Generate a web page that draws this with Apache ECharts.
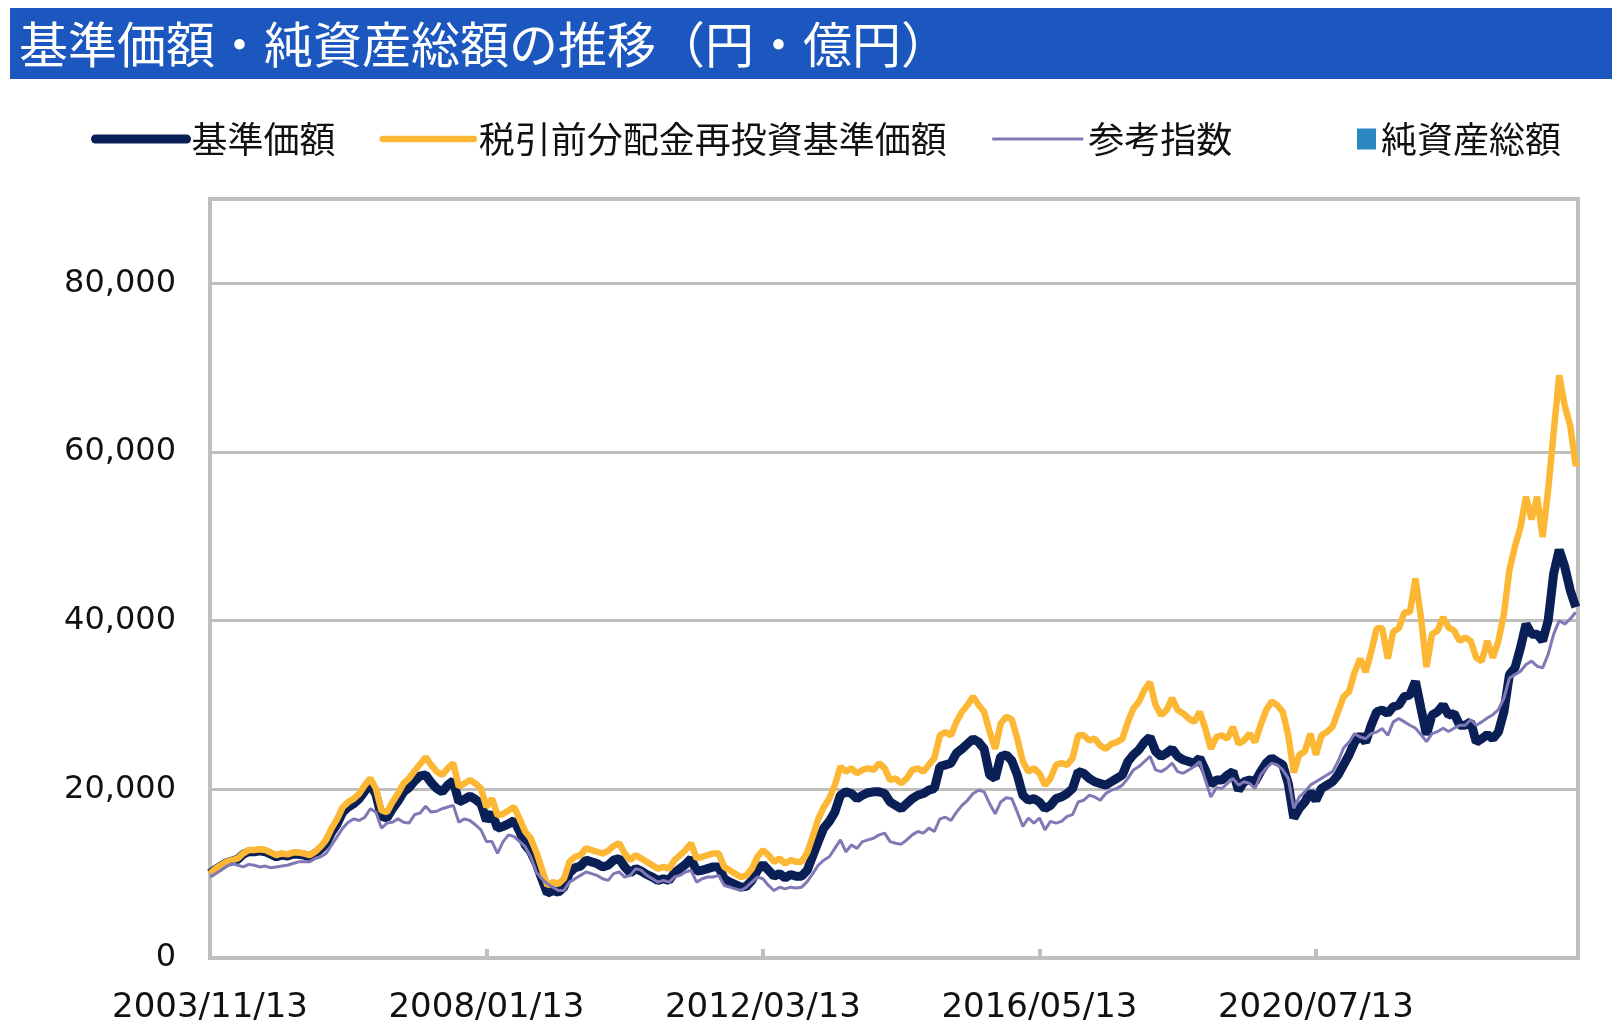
<!DOCTYPE html>
<html>
<head>
<meta charset="utf-8">
<title>基準価額・純資産総額の推移</title>
<script src="https://cdn.jsdelivr.net/npm/echarts@6/dist/echarts.min.js"></script>
<style>
  html, body { margin: 0; padding: 0; background: #fff; }
  #chart { width: 1612px; height: 1028px; }
</style>
</head>
<body>
<div id="chart"></div>
<script>
// x ticks every 50 months from 2003/11/13
var xTickLabels = ['2003/11/13', '2008/01/13', '2012/03/13', '2016/05/13', '2020/07/13']

// monthly readings, month 0 = 2003/11
var navValues = [
  10000, 10500, 10900, 11300, 11500, 11700, 12300, 12600, 12600, 12700,
  12600, 12300, 12000, 12200, 12100, 12300, 12300, 12200, 12000, 12400,
  12900, 13600, 14900, 15900, 17300, 17900, 18300, 18900, 19800, 20600,
  19400, 16800, 16600, 17700, 18600, 19700, 20200, 21000, 21600, 21700,
  20800, 20100, 19700, 20500, 21000, 18500, 18800, 19200, 18800, 18300,
  16300, 17200, 15400, 15600, 15900, 16300, 15000, 13400, 12600, 11200,
  9400, 7700, 8000, 7800, 8400, 10100, 10700, 10900, 11600, 11400,
  11200, 10800, 11000, 11600, 11800, 10800, 10100, 10600, 10300, 9900,
  9600, 9200, 9400, 9200, 10100, 10600, 11100, 11800, 10300, 10400,
  10600, 10800, 10800, 9400, 9000, 8700, 8400, 8500, 9200, 10400,
  11100, 10400, 9700, 10000, 9500, 9900, 9700, 9700, 10400, 12100,
  13800, 15400, 16200, 17300, 19300, 19700, 19500, 18900, 19300, 19600,
  19700, 19700, 19500, 18500, 18100, 17700, 18300, 18900, 19300, 19500,
  19900, 20100, 22700, 22900, 23100, 24300, 24800, 25400, 26000, 25600,
  24800, 21700, 21300, 23900, 24100, 23400, 21700, 19300, 18700, 18900,
  18500, 17700, 18100, 18900, 19100, 19500, 20100, 22100, 21900, 21300,
  20900, 20700, 20500, 20900, 21300, 21700, 23300, 24100, 24700, 25600,
  26200, 24500, 23900, 24300, 24800, 23900, 23500, 23300, 23100, 23700,
  22300, 20600, 21100, 21100, 21700, 22100, 19900, 20900, 21100, 20900,
  22100, 23100, 23700, 23300, 22900, 20700, 16600, 17750, 18500, 19700,
  18700, 20100, 20500, 20900, 21700, 22900, 24100, 25600, 26400, 25600,
  27600, 29200, 29400, 29000, 29800, 30000, 31000, 31200, 32800, 29600,
  26500, 28800, 29200, 30000, 28800, 29000, 27600, 27600, 28000, 25600,
  26000, 26500, 26000, 26800, 29200, 33600, 34400, 36800, 39600, 38400,
  38400, 37600, 40000, 45600, 48400, 46400, 43600, 41600
]

var reinvestValues = [
  10000, 10600, 11000, 11400, 11600, 11800, 12400, 12800, 12800, 12900,
  12800, 12500, 12200, 12400, 12300, 12500, 12500, 12400, 12200, 12600,
  13200, 14000, 15400, 16500, 17900, 18500, 18900, 19500, 20500, 21300,
  20100, 17500, 17300, 18500, 19500, 20700, 21300, 22200, 23000, 23800,
  22900, 22100, 21700, 22500, 23100, 20300, 20700, 21100, 20700, 20100,
  17900, 18900, 16900, 17100, 17500, 17900, 16500, 15000, 14200, 12600,
  10600, 8600, 9000, 8800, 9400, 11400, 12000, 12200, 13000, 12800,
  12600, 12400, 12700, 13300, 13600, 12400, 11600, 12200, 11800, 11400,
  11000, 10600, 10800, 10600, 11600, 12200, 12800, 13600, 11800, 12000,
  12200, 12400, 12400, 10800, 10400, 10000, 9600, 9800, 10600, 12000,
  12800, 12200, 11400, 11800, 11200, 11600, 11400, 11400, 12500, 14400,
  16500, 17900, 18900, 20500, 22700, 22100, 22500, 21900, 22300, 22500,
  22300, 23100, 22500, 21100, 21300, 20700, 21300, 22300, 22500, 22100,
  22900, 23700, 26400, 26800, 26400, 28000, 29200, 30000, 31000, 30000,
  29200, 26800, 24800, 27800, 28600, 28300, 26000, 23300, 22100, 22500,
  21900, 20500, 21300, 22900, 23100, 22900, 23700, 26400, 26400, 25800,
  26000, 25200, 24800, 25400, 25600, 26000, 28000, 29600, 30400, 31800,
  32700, 30000, 28800, 29400, 30800, 29400, 29000, 28400, 28000, 29200,
  27200, 24800, 26200, 26400, 26000, 27400, 25400, 25800, 26600, 25600,
  27600, 29400, 30400, 30000, 29200, 26400, 22000, 24100, 24500, 26600,
  24100, 26400, 26800, 27400, 29200, 31000, 31600, 33900, 35500, 33900,
  36300, 39100, 39100, 35500, 38700, 39100, 41000, 41000, 45000, 40400,
  34500, 38400, 38800, 40400, 39200, 38800, 37600, 38000, 37600, 35600,
  35200, 37600, 35600, 37600, 40800, 46000, 48800, 51100, 54700, 52000,
  54700, 49900, 55500, 62300, 69100, 65500, 63100, 58300
]

var indexValues = [
  9600, 10000, 10400, 10900, 11200, 11000, 10800, 11100, 11000, 10800,
  10900, 10700, 10800, 10900, 11000, 11200, 11400, 11400, 11400, 11800,
  12000, 12400, 13400, 14400, 15400, 16100, 16500, 16300, 16700, 17700,
  17300, 15400, 16000, 16100, 16500, 16100, 16000, 17000, 17200, 18000,
  17300, 17400, 17700, 17900, 18100, 16100, 16500, 16300, 15800, 15200,
  13800, 13800, 12400, 13800, 14600, 14400, 13800, 13200, 12000, 10200,
  9400, 8800, 8400, 8000, 8000, 9000, 9400, 9800, 10200, 10000,
  9800, 9400, 9200, 10000, 10200, 9600, 9800, 10600, 10400, 9800,
  9400, 9000, 9200, 9000, 9600, 9800, 10200, 10400, 9000, 9400,
  9600, 9600, 9800, 8600, 8400, 8200, 8000, 8400, 9000, 9600,
  9400, 8600, 8000, 8400, 8200, 8400, 8300, 8400, 9050, 10000,
  11000, 11600, 12000, 13000, 14000, 12600, 13400, 13000, 13800, 14000,
  14200, 14600, 14800, 13800, 13600, 13500, 14000, 14600, 15000, 14800,
  15400, 15000, 16500, 16700, 16300, 17300, 18100, 18700, 19500, 19900,
  19700, 18300, 17100, 18500, 19000, 18900, 17300, 15600, 16600, 16000,
  16600, 15200, 16200, 16000, 16200, 16800, 17000, 18500, 18700, 19300,
  19100, 18700, 19500, 19900, 20100, 20500, 21300, 22300, 22700, 23300,
  23900, 22300, 22100, 22500, 23100, 22100, 21900, 22300, 22700, 23300,
  21100, 19100, 20200, 20100, 20700, 21300, 20500, 20900, 20700, 20100,
  21700, 22500, 23100, 22900, 22300, 21300, 17750, 19100, 19700, 20500,
  20900, 21300, 21700, 22100, 23300, 24900, 25600, 26600, 26200, 26000,
  26600, 26800, 27200, 26400, 28000, 28400, 28000, 27600, 27250, 26500,
  25650, 26600, 26850, 27250, 26850, 27250, 27600, 27600, 28250, 27600,
  28000, 28450, 28850, 29450, 30800, 33200, 33600, 34000, 34800, 35200,
  34600, 34400, 36000, 38400, 40000, 39600, 40200, 41000
]

var navColor = '#0A1F55'
var reinvestColor = '#FCB834'
var indexColor = '#8179B5'
var assetsColor = '#2A87C0'
var frameColor = '#BFBFBF'

function toPoints (values) {
  return values.map(function (v, i) { return [i, v] })
}

var chart = echarts.init(document.getElementById('chart'))

var legendText = { fontSize: 36, color: '#111', fontFamily: 'Noto Sans CJK JP' }
// the circle that line series put in their legend icon is hidden
var noDot = { opacity: 0 }

var option = {
  animation: false,
  backgroundColor: '#fff',
  graphic: [
    {
      type: 'rect',
      z: 0,
      shape: { x: 10, y: 8, width: 1602, height: 71 },
      style: { fill: '#1B57BE' }
    },
    {
      type: 'text',
      z: 1,
      x: 19,
      y: 44,
      style: {
        text: '基準価額・純資産総額の推移（円・億円）',
        fill: '#fff',
        font: '49px "Noto Sans CJK JP"',
        verticalAlign: 'middle'
      }
    }
  ],
  legend: [
    {
      left: 91,
      top: 121,
      padding: 0,
      itemWidth: 91,
      itemHeight: 36,
      itemGap: 44,
      textStyle: legendText,
      data: [
        { name: '基準価額', itemStyle: noDot, lineStyle: { width: 9, cap: 'round' } },
        { name: '税引前分配金再投資基準価額', itemStyle: noDot, lineStyle: { width: 6.5, cap: 'round' } },
        { name: '参考指数', itemStyle: noDot, lineStyle: { width: 3 } }
      ]
    },
    {
      left: 1357,
      top: 121,
      padding: 0,
      itemWidth: 19,
      itemHeight: 21,
      textStyle: legendText,
      data: [{ name: '純資産総額', icon: 'rect' }]
    }
  ],
  grid: {
    left: 210,
    right: 34,
    top: 199,
    bottom: 70,
    show: true,
    borderColor: frameColor,
    borderWidth: 4
  },
  xAxis: {
    type: 'value',
    min: 0,
    max: 247.4,
    interval: 50,
    axisLine: { lineStyle: { color: frameColor, width: 4 } },
    axisTick: { inside: true, length: 9, lineStyle: { color: frameColor, width: 4 } },
    splitLine: { show: false },
    axisLabel: {
      margin: 33,
      fontSize: 34,
      color: '#111',
      fontFamily: 'DejaVu Sans',
      showMaxLabel: false,
      formatter: function (v) { return xTickLabels[v / 50] || '' }
    }
  },
  yAxis: {
    type: 'value',
    min: 0,
    max: 90000,
    interval: 20000,
    axisLine: { show: true, lineStyle: { color: frameColor, width: 4 } },
    axisTick: { show: false },
    splitLine: { lineStyle: { color: frameColor, width: 3 } },
    axisLabel: {
      margin: 34,
      fontSize: 32,
      color: '#111',
      fontFamily: 'DejaVu Sans',
      showMaxLabel: false,
      formatter: function (v) { return v.toLocaleString('en-US') }
    }
  },
  series: [
    {
      name: '純資産総額',
      type: 'bar',
      itemStyle: { color: assetsColor },
      data: []
    },
    {
      name: '基準価額',
      type: 'line',
      symbol: 'none',
      color: navColor,
      lineStyle: { width: 9, color: navColor },
      data: toPoints(navValues)
    },
    {
      name: '税引前分配金再投資基準価額',
      type: 'line',
      symbol: 'none',
      color: reinvestColor,
      lineStyle: { width: 6.5, color: reinvestColor },
      data: toPoints(reinvestValues)
    },
    {
      name: '参考指数',
      type: 'line',
      symbol: 'none',
      color: indexColor,
      lineStyle: { width: 3, color: indexColor },
      data: toPoints(indexValues)
    }
  ]
}

chart.setOption(option)
</script>
</body>
</html>
